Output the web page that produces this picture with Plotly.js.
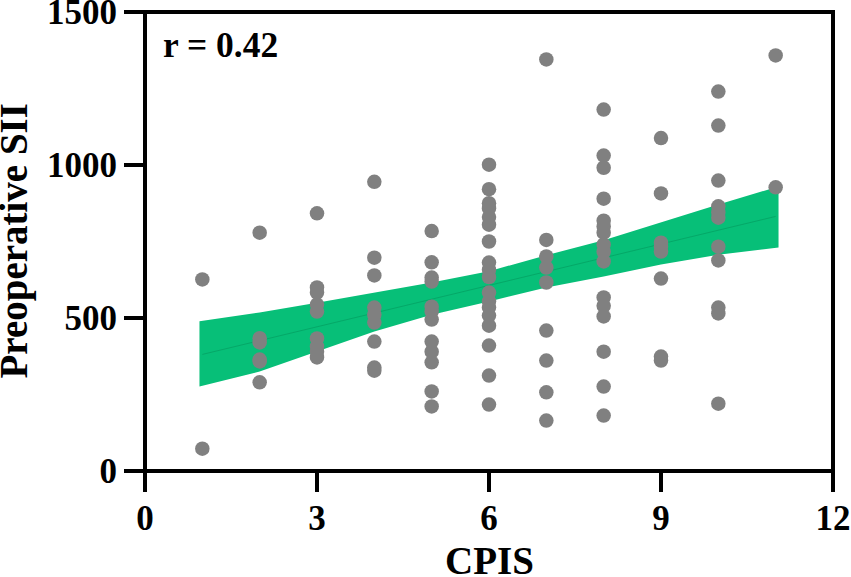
<!DOCTYPE html>
<html>
<head>
<meta charset="utf-8">
<script src="https://cdn.plot.ly/plotly-3.0.1.min.js"></script>
<style>
  html, body { margin: 0; padding: 0; background: #fff; }
</style>
</head>
<body>
<div id="chart" style="width:851px;height:577px;"></div>
<script>
// values, one list per CPIS score
const sii1 = [626, 73];
const sii2 = [779, 434, 420, 364, 358, 290];
const sii3 = [842, 600, 583, 544, 521, 433, 407, 390, 371];
const sii4 = [945, 697, 639, 534, 511, 485, 423, 338, 328];
const sii5 = [784, 682, 632, 619, 537, 521, 495, 423, 390, 355, 260, 211];
const sii6 = [1001, 921, 875, 858, 830, 805, 750, 681, 658, 634, 583, 554, 534, 508, 475, 410, 312, 217];
const sii7 = [1345, 755, 701, 665, 616, 459, 361, 257, 165];
const sii8 = [1181, 1031, 991, 890, 818, 799, 779, 740, 717, 685, 567, 540, 505, 390, 276, 181];
const sii9 = [1088, 907, 746, 733, 717, 629, 374, 361];
const sii10 = [1240, 1129, 949, 865, 845, 828, 733, 688, 534, 515, 220];
const sii11 = [1358, 927];

const groups = [sii1, sii2, sii3, sii4, sii5, sii6, sii7, sii8, sii9, sii10, sii11];
const cpis = groups.flatMap((g, i) => g.map(() => i + 1));
const sii = groups.flat();

// regression line and confidence band
const bandX = [0.95, 2, 3, 4, 5, 6, 7, 8, 9, 10, 11.05];
const bandUpper = [489, 518, 550, 583, 616, 653, 705, 754, 813, 871, 930];
const bandLower = [276, 325, 390, 456, 511, 554, 600, 636, 675, 707, 730];
const lineX = [1, 11];
const lineY = [381, 832];

const xTicks = [0, 3, 6, 9, 12];
const yTicks = [0, 500, 1000, 1500];

const serif = 'Liberation Serif, Times New Roman, serif';

const traces = [
    {
        x: bandX.concat(bandX.slice().reverse()),
        y: bandUpper.concat(bandLower.slice().reverse()),
        type: 'scatter',
        mode: 'lines',
        fill: 'toself',
        fillcolor: '#07BF78',
        line: { width: 0 },
        hoverinfo: 'skip'
    },
    {
        x: lineX,
        y: lineY,
        type: 'scatter',
        mode: 'lines',
        line: { color: '#05A868', width: 1 },
        hoverinfo: 'skip'
    },
    {
        x: cpis,
        y: sii,
        type: 'scatter',
        mode: 'markers',
        marker: { size: 14.5, color: '#808080' }
    }
];

const axisStyle = {
    showgrid: false,
    zeroline: false,
    showline: false,
    ticks: 'outside',
    ticklen: 20,
    tickwidth: 4,
    tickcolor: '#000',
    ticklabeloverflow: 'allow',
    tickfont: { family: serif, size: 35, color: '#000', weight: 'bold' }
};

// standoff is ignored without automargin, so the axis titles sit as annotations
const note = (text, x, y, size, angle, xanchor) => ({
    x: x,
    y: y,
    xref: 'paper',
    yref: 'paper',
    xanchor: xanchor,
    yanchor: 'middle',
    text: '<b>' + text + '</b>',
    textangle: angle,
    showarrow: false,
    font: { family: serif, size: size, color: '#000' }
});

const layout = {
    width: 851,
    height: 577,
    margin: { l: 145, r: 18, t: 12, b: 106 },
    paper_bgcolor: '#fff',
    plot_bgcolor: '#fff',
    showlegend: false,
    xaxis: Object.assign({}, axisStyle, {
        range: [0, 12],
        tickmode: 'array',
        tickvals: xTicks,
        ticklabelstandoff: -4
    }),
    yaxis: Object.assign({}, axisStyle, {
        range: [0, 1500],
        tickmode: 'array',
        tickvals: yTicks
    }),
    // frame centred on the plot edge, so the 0 ticks run straight out of it
    shapes: [{
        type: 'rect',
        xref: 'paper',
        yref: 'paper',
        x0: 0,
        x1: 1,
        y0: 0,
        y1: 1,
        line: { color: '#000', width: 4 }
    }],
    annotations: [
        note('r = 0.42', 0.0226, 0.929, 35.5, 0, 'left'),
        note('CPIS', 0.5007, -0.196, 39, 0, 'center'),
        note('Preoperative SII', -0.1897, 0.501, 39, -90, 'center')
    ]
};

Plotly.newPlot('chart', traces, layout, { displayModeBar: false });
</script>
</body>
</html>
